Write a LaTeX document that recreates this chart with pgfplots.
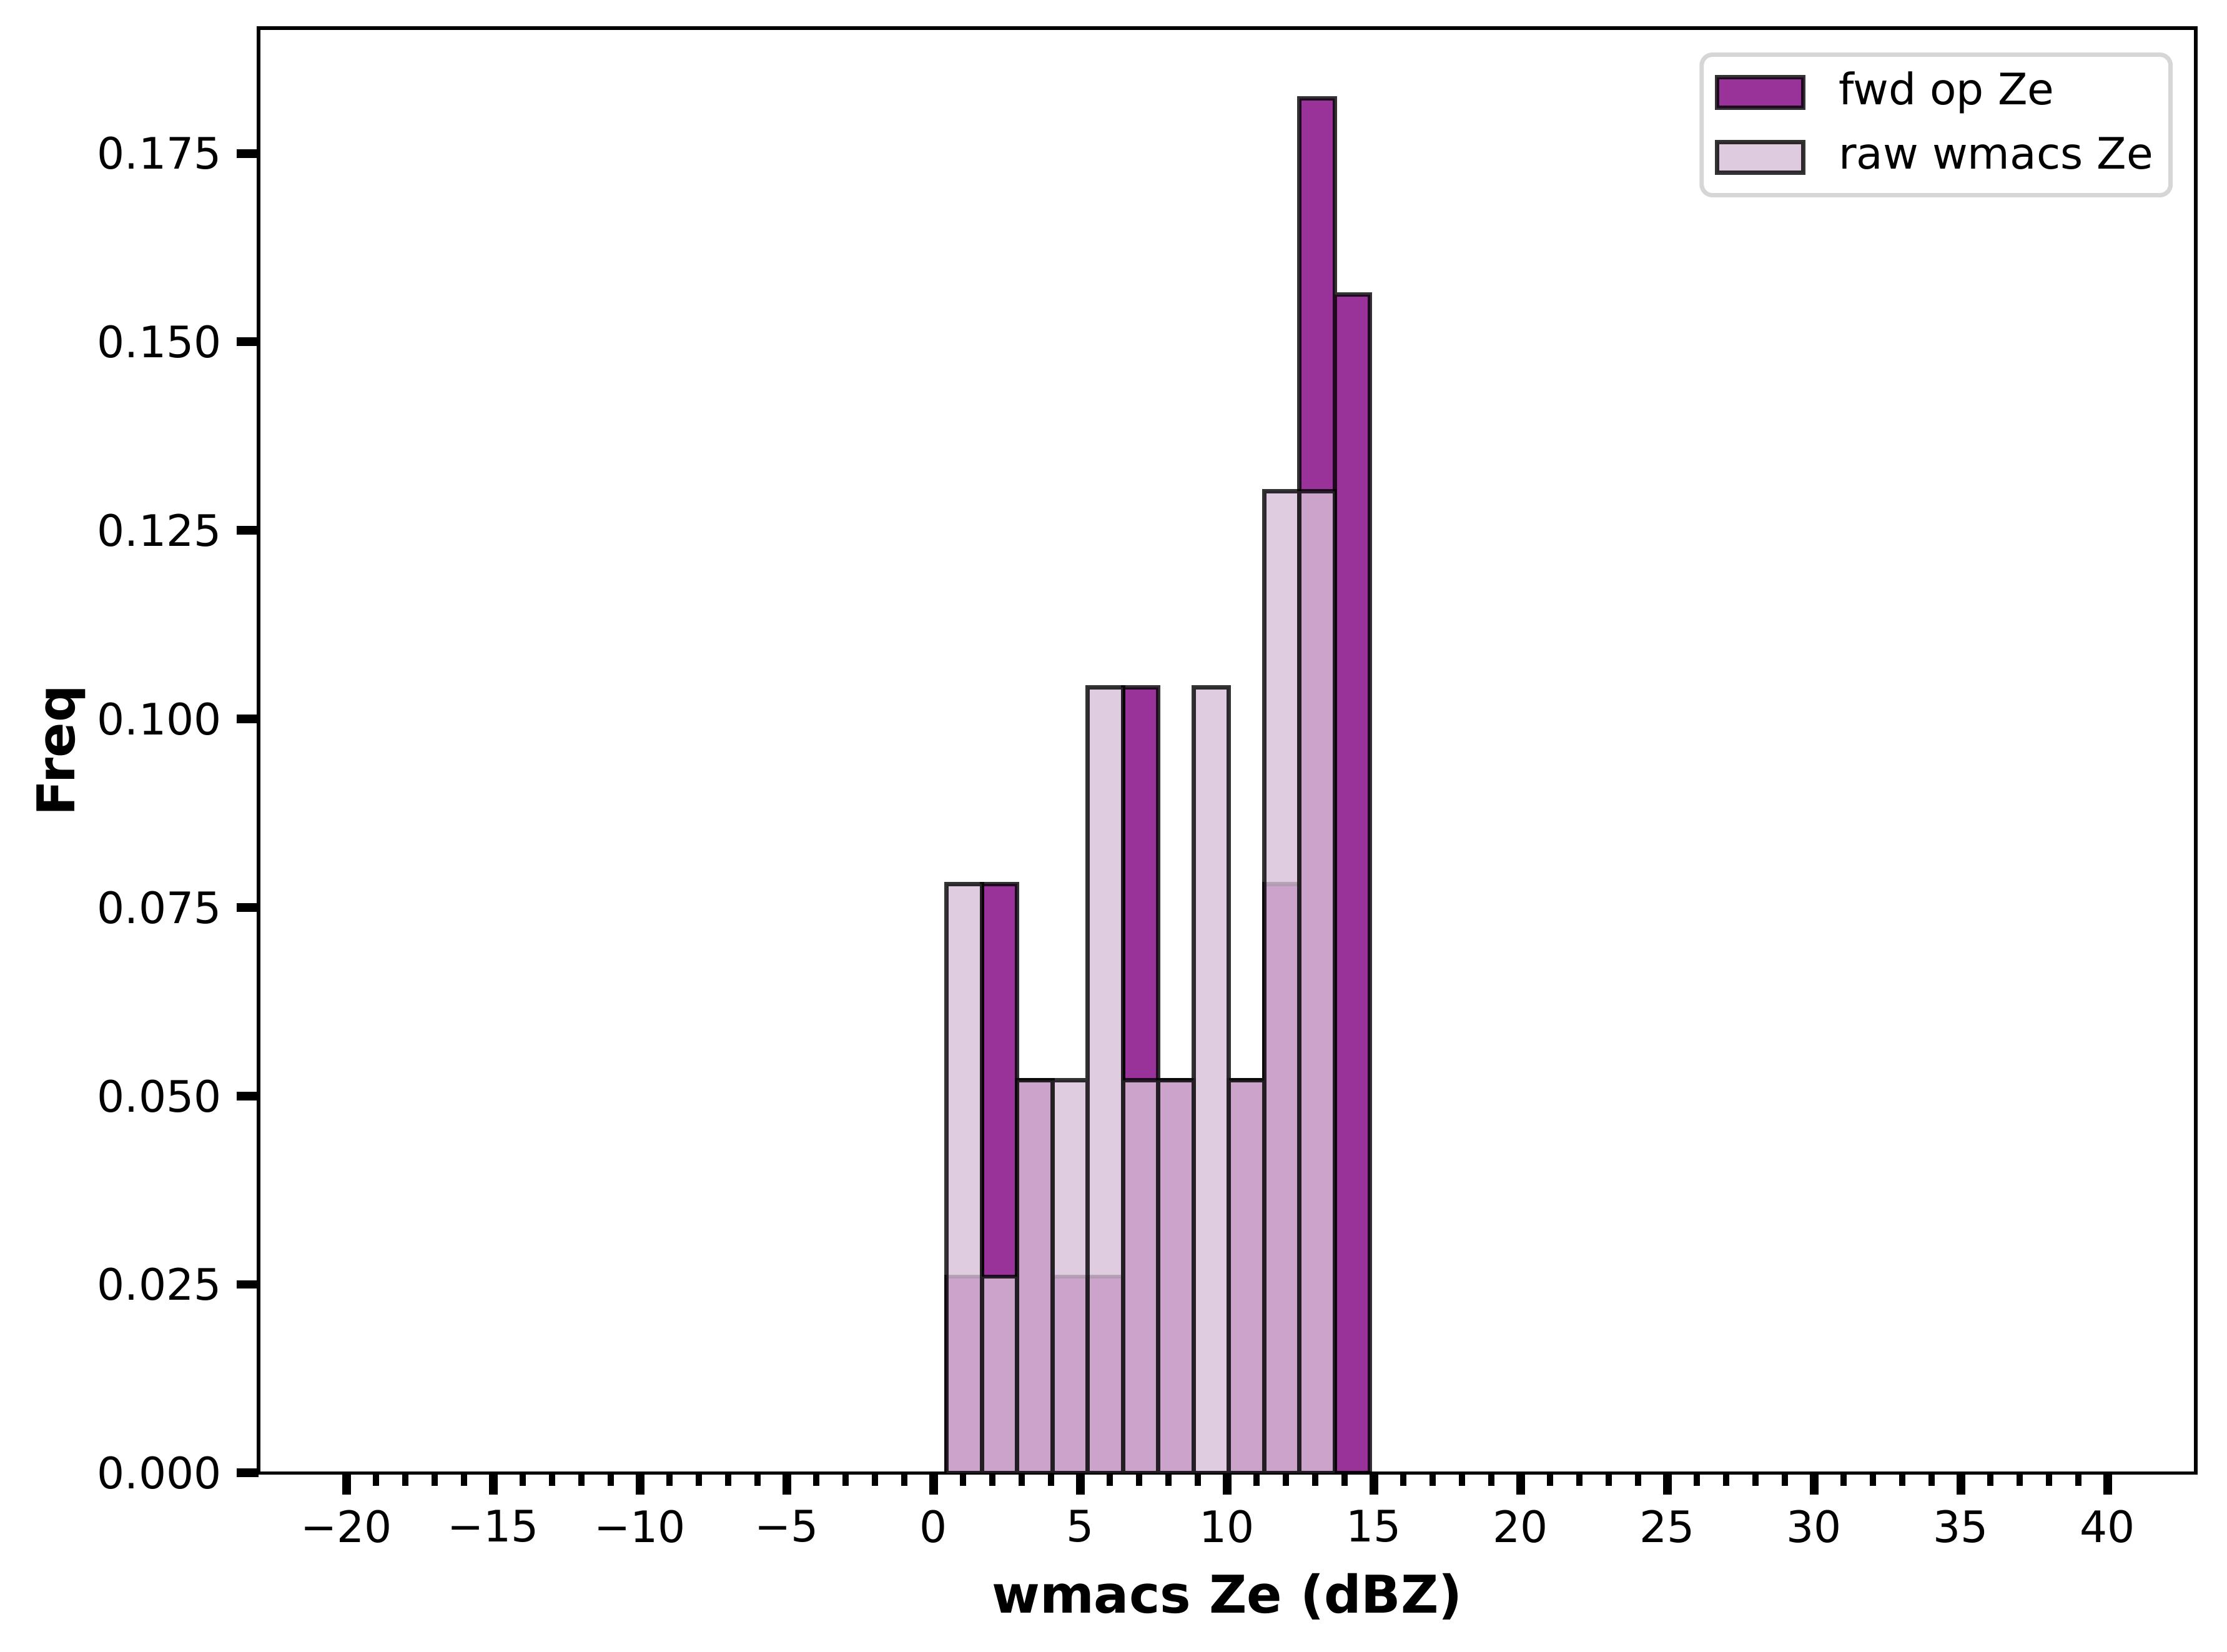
\documentclass[border=0pt]{standalone}
\usepackage{fontspec}
\setmainfont{DejaVu Sans}
\usepackage{pgfplots}
\pgfplotsset{compat=1.18}
\definecolor{fwdc}{RGB}{128,0,128}
\definecolor{rawc}{RGB}{216,191,216}
\definecolor{legframe}{RGB}{214,214,214}
\begin{document}
\begin{tikzpicture}
\path[use as bounding box] (-59.6pt,-41.2pt) rectangle (453.9pt,339.6pt);
\begin{axis}[
  at={(0pt,0pt)}, anchor=south west,
  scale only axis, width=446.7pt, height=333.1pt,
  xmin=-23, xmax=43, ymin=0, ymax=0.1916,
  axis line style={line width=0.8pt},
  xtick={-20,-15,-10,-5,0,5,10,15,20,25,30,35,40},
  xticklabels={−20,−15,−10,−5,0,5,10,15,20,25,30,35,40},
  minor x tick num=4,
  ytick={0,0.025,0.05,0.075,0.1,0.125,0.15,0.175},
  yticklabels={0.000,0.025,0.050,0.075,0.100,0.125,0.150,0.175},
  tick align=outside, tick pos=left,
  major tick length=5pt, minor tick length=3pt,
  every major tick/.append style={line width=2pt, black},
  every minor tick/.append style={line width=1.5pt, black},
  tick label style={font=\fontsize{10}{12}\selectfont},
  xlabel={wmacs Ze (dBZ)}, ylabel={Freq},
  label style={font=\fontsize{12}{14}\selectfont\bfseries},
  xlabel style={at={(axis description cs:0.5,0)}, anchor=base, yshift=-32.2pt},
  ylabel style={at={([xshift=-45.5pt]axis description cs:0,0.5)}, anchor=center},
  legend cell align=left,
  legend style={at={(1,1)}, anchor=north east, xshift=-5.3pt, yshift=-5.6pt,
    draw=legframe, rounded corners=2.5pt, line width=1pt,
    font=\fontsize{10}{12}\selectfont,
    inner xsep=3pt, inner ysep=3pt, row sep=3.4pt,
    nodes={inner sep=1pt, text height=7.5pt, text depth=2pt},
    /tikz/every odd column/.append style={column sep=6.6pt}},
]
\addplot[ybar interval, fill=fwdc, fill opacity=0.8, draw=black, draw opacity=0.8, line width=1pt,
  legend image code/.code={\draw[sharp corners, fill=fwdc, fill opacity=0.8, draw=black, draw opacity=0.8, line width=1pt] (0pt,-3.5pt) rectangle (20pt,3.5pt);}]
coordinates {
(0.44,0.026042) (1.6425,0.078125) (2.845,0.052083) (4.0475,0.026042) (5.25,0.026042)
(6.4525,0.104167) (7.655,0.052083) (8.8575,0) (10.06,0.052083) (11.2625,0.078125)
(12.465,0.182292) (13.6675,0.15625) (14.87,0)
};
\addlegendentry{fwd op Ze}
\addplot[ybar interval, fill=rawc, fill opacity=0.8, draw=black, draw opacity=0.8, line width=1pt,
  legend image code/.code={\draw[sharp corners, fill=rawc, fill opacity=0.8, draw=black, draw opacity=0.8, line width=1pt] (0pt,-3.5pt) rectangle (20pt,3.5pt);}]
coordinates {
(0.44,0.078125) (1.6425,0.026042) (2.845,0.052083) (4.0475,0.052083) (5.25,0.104167)
(6.4525,0.052083) (7.655,0.052083) (8.8575,0.104167) (10.06,0.052083) (11.2625,0.130208)
(12.465,0.130208) (13.6675,0) (14.87,0)
};
\addlegendentry{raw wmacs Ze}
\end{axis}
\end{tikzpicture}
\end{document}
